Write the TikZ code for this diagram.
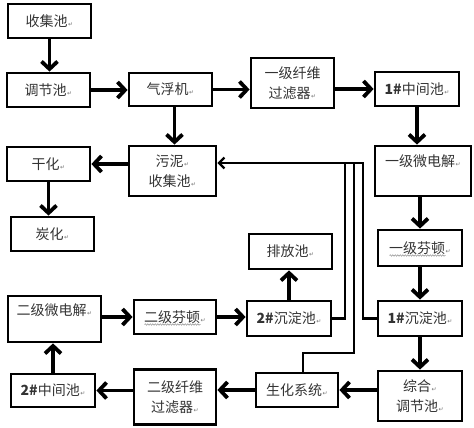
\documentclass[tikz,border=0pt]{standalone}
\usepackage{fontspec}
\newfontfamily\cjk{Noto Sans CJK SC}
\newfontfamily\symf{DejaVu Sans}
\usetikzlibrary{arrows.meta,decorations.pathmorphing}
\newcommand\rt{\hspace{0.5pt}{\symf\fontsize{6}{6}\selectfont\color{black!55}↵}}
\begin{document}
\begin{tikzpicture}[x=1pt,y=-1pt,
  box/.style={draw=black, line width=2.8pt, inner sep=0pt, font=\cjk\fontsize{14}{20}\selectfont, text=black!80, align=center},
  arr/.style={line width=3.8pt, -{Straight Barb[length=7.5pt,width=16pt]}},
  rec/.style={line width=2.2pt},
  reca/.style={line width=2.2pt, -{Straight Barb[length=5.5pt,width=11pt]}},
  wave/.style={draw=black!45, line width=0.5pt, decorate, decoration={snake, amplitude=0.7pt, segment length=2.5pt}}]
\useasboundingbox (0,0) rectangle (474,428);

\node[box, minimum width=83pt, minimum height=34pt] (jj) at (49.5,21) {收集池\rt};
\node[box, minimum width=83pt, minimum height=34pt] (tj) at (48.5,90) {调节池\rt};
\node[box, minimum width=83pt, minimum height=33pt] (qf) at (170.5,89.5) {气浮机\rt};
\node[box, minimum width=83pt, minimum height=50pt] (xw1) at (292.5,83) {一级纤维\\过滤器\rt};
\node[box, minimum width=84pt, minimum height=34pt] (zj1) at (417,89) {{\bfseries 1\#}中间池\rt};
\node[box, minimum width=96pt, minimum height=50pt, text depth=20pt] (wd1) at (423,171) {一级微电解\rt};
\node[box, minimum width=83pt, minimum height=34pt] (gh) at (48.5,164) {干化\rt};
\node[box, minimum width=87pt, minimum height=50pt] (wn) at (172.5,171) {污泥\rt\\收集池\rt};
\node[box, minimum width=83pt, minimum height=34pt] (th) at (52.5,234) {炭化\rt};
\node[box, minimum width=83pt, minimum height=35pt] (pf) at (290.5,251.5) {排放池\rt};
\node[box, minimum width=84pt, minimum height=36pt] (fd1) at (420,248) {一级芬顿\rt};
\node[box, minimum width=93pt, minimum height=46pt, text depth=18pt] (wd2) at (54.5,319) {二级微电解\rt};
\node[box, minimum width=82pt, minimum height=34pt] (fd2) at (175,317) {二级芬顿\rt};
\node[box, minimum width=84pt, minimum height=35pt] (cd2) at (289,318.5) {{\bfseries 2\#}沉淀池\rt};
\node[box, minimum width=84pt, minimum height=35pt] (cd1) at (420,318.5) {{\bfseries 1\#}沉淀池\rt};
\node[box, minimum width=84pt, minimum height=33pt] (zj2) at (53,390.5) {{\bfseries 2\#}中间池\rt};
\node[box, minimum width=82pt, minimum height=55pt] (xw2) at (175,397) {二级纤维\\过滤器\rt};
\node[box, minimum width=82pt, minimum height=34pt] (sh) at (297,390) {生化系统\rt};
\node[box, minimum width=84pt, minimum height=50pt] (zh) at (420,396) {综合\rt\\调节池\rt};

% wavy underlines
\draw[wave] ([xshift=-30.5pt,yshift=-7.5pt]fd1.center) -- ++(56,0);
\draw[wave] ([xshift=-30.5pt,yshift=-7.5pt]fd2.center) -- ++(56,0);

% main arrows
\draw[arr] (jj.south) -- (jj.south |- tj.north);
\draw[arr] (tj.east) -- (tj.east -| qf.west);
\draw[arr] (qf.east) -- (qf.east -| xw1.west);
\draw[arr] (xw1.east |- zj1.west) -- (zj1.west);
\draw[arr] ([xshift=4pt]qf.south) -- ([xshift=4pt]qf.south |- wn.north);
\draw[arr] (zj1.south) -- (zj1.south |- wd1.north);
\draw[arr] (wn.west |- gh.east) -- (gh.east);
\draw[arr] (gh.south) -- (gh.south |- th.north);
\draw[arr] (fd1.north |- wd1.south) -- (fd1.north);
\draw[arr] (fd1.south) -- (cd1.north);
\draw[arr] (cd1.south) -- (zh.north);
\draw[arr] (cd2.north) -- (cd2.north |- pf.south);
\draw[arr] (wd2.east |- fd2.west) -- (fd2.west);
\draw[arr] (fd2.east) -- (fd2.east -| cd2.west);
\draw[arr] (zh.west |- sh.east) -- (sh.east);
\draw[arr] (sh.west) -- (sh.west -| xw2.east);
\draw[arr] (xw2.west |- zj2.east) -- (zj2.east);
\draw[arr] (zj2.north) -- (zj2.north |- wd2.south);

% return lines
\coordinate (ra) at (345,163);
\coordinate (rb) at (354,163);
\coordinate (rc) at (363,163);
\coordinate (rs) at (303,353);
\draw[rec] (cd2.east) -| (ra);
\draw[rec] (sh.north -| rs) -- (rs) -| (rb);
\draw[reca] (cd1.west) -| (rc) -- (wn.east |- rc);
\end{tikzpicture}
\end{document}
